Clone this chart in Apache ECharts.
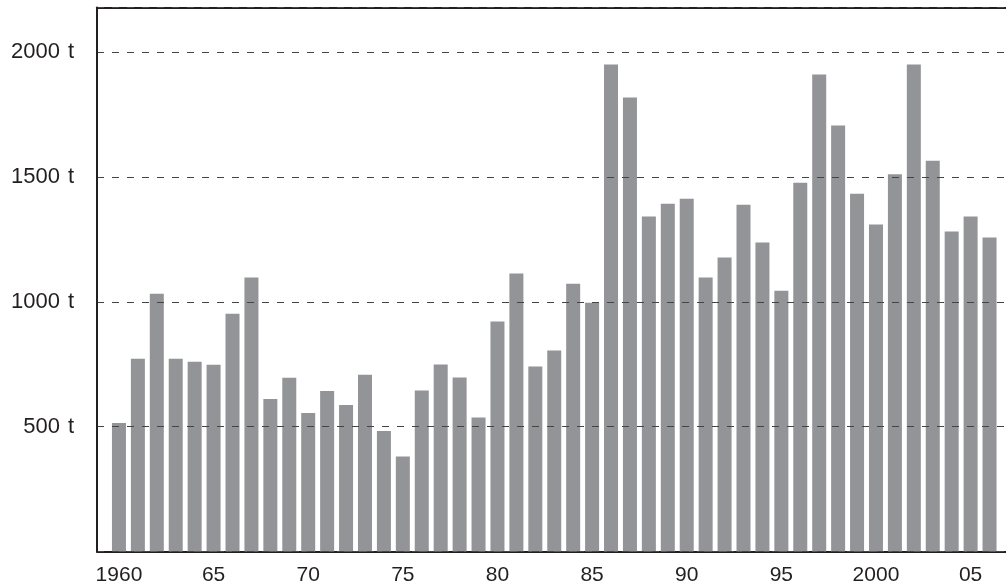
<!DOCTYPE html>
<html>
<head>
<meta charset="utf-8">
<script src="https://cdn.jsdelivr.net/npm/echarts@6/dist/echarts.min.js"></script>
<style>
  html, body { margin: 0; padding: 0; background: #ffffff; }
  #chart { width: 1006px; height: 587px; }
</style>
</head>
<body>
<div id="chart"></div>
<script>
// ---- data ----
const years = [
  1960, 1961, 1962, 1963, 1964, 1965, 1966, 1967, 1968, 1969,
  1970, 1971, 1972, 1973, 1974, 1975, 1976, 1977, 1978, 1979,
  1980, 1981, 1982, 1983, 1984, 1985, 1986, 1987, 1988, 1989,
  1990, 1991, 1992, 1993, 1994, 1995, 1996, 1997, 1998, 1999,
  2000, 2001, 2002, 2003, 2004, 2005, 2006
];
const tonnes = [
  515, 772, 1033, 772, 760, 748, 953, 1098, 611, 696,
  555, 643, 587, 708, 483, 381, 645, 749, 697, 537,
  922, 1114, 741, 805, 1073, 997, 1952, 1819, 1342, 1394,
  1414, 1098, 1178, 1390, 1238, 1045, 1478, 1912, 1707, 1434,
  1310, 1512, 1952, 1566, 1282, 1342, 1258
];
const xTickValues = [1960, 1965, 1970, 1975, 1980, 1985, 1990, 1995, 2000, 2005];
const xTickLabels = ['1960', '65', '70', '75', '80', '85', '90', '95', '2000', '05'];
const yTickValues = [500, 1000, 1500, 2000];
const yUnit = 't';

// ---- chart ----
const chart = echarts.init(document.getElementById('chart'), null, { renderer: 'canvas' });
const font = '"Liberation Sans", Arial, Helvetica, sans-serif';
const ink = '#231f20';

const option = {
  animation: false,
  backgroundColor: '#ffffff',
  grid: { left: 97, right: 0, top: 7.5, bottom: 35.5, containLabel: false },
  xAxis: [
    {
      type: 'value',
      position: 'bottom',
      min: 1958.84,
      max: 2006.87,
      splitLine: { show: false },
      axisLine: { show: true, onZero: false, lineStyle: { color: ink, width: 2 } },
      axisTick: {
        show: true, inside: true, length: 6,
        customValues: xTickValues,
        lineStyle: { color: ink, width: 1 }
      },
      axisLabel: {
        show: true,
        customValues: xTickValues,
        formatter: function (v) {
          const i = xTickValues.indexOf(Math.round(v));
          return i >= 0 ? xTickLabels[i] : '';
        },
        color: ink, fontFamily: font, fontSize: 21, margin: 13
      }
    },
    {
      type: 'value',
      position: 'top',
      min: 1958.84,
      max: 2006.87,
      splitLine: { show: false },
      axisTick: { show: false },
      axisLabel: { show: false },
      axisLine: { show: true, onZero: false, lineStyle: { color: ink, width: 2 } }
    }
  ],
  yAxis: {
    type: 'value',
    min: 0,
    max: 2180,
    interval: 500,
    z: 5,
    axisLine: { show: true, onZero: false, lineStyle: { color: ink, width: 2 } },
    axisTick: { show: false },
    axisLabel: {
      customValues: yTickValues,
      formatter: function (v) {
        return yTickValues.indexOf(v) >= 0 ? '{n|' + v + '}{u|' + yUnit + '}' : '';
      },
      rich: {
        n: { color: ink, fontFamily: font, fontSize: 22 },
        u: { color: ink, fontFamily: font, fontSize: 22, padding: [0, 0, 0, 8] }
      },
      color: ink, fontFamily: font, fontSize: 22, margin: 23
    },
    splitLine: {
      show: true,
      lineStyle: { color: '#444', width: 1, type: [7, 8] }
    }
  },
  series: [{
    type: 'bar',
    xAxisIndex: 0,
    barWidth: 14,
    itemStyle: { color: '#939498' },
    data: years.map(function (y, i) { return [y, tonnes[i]]; }),
    z: 2
  }]
};
chart.setOption(option);
</script>
</body>
</html>
